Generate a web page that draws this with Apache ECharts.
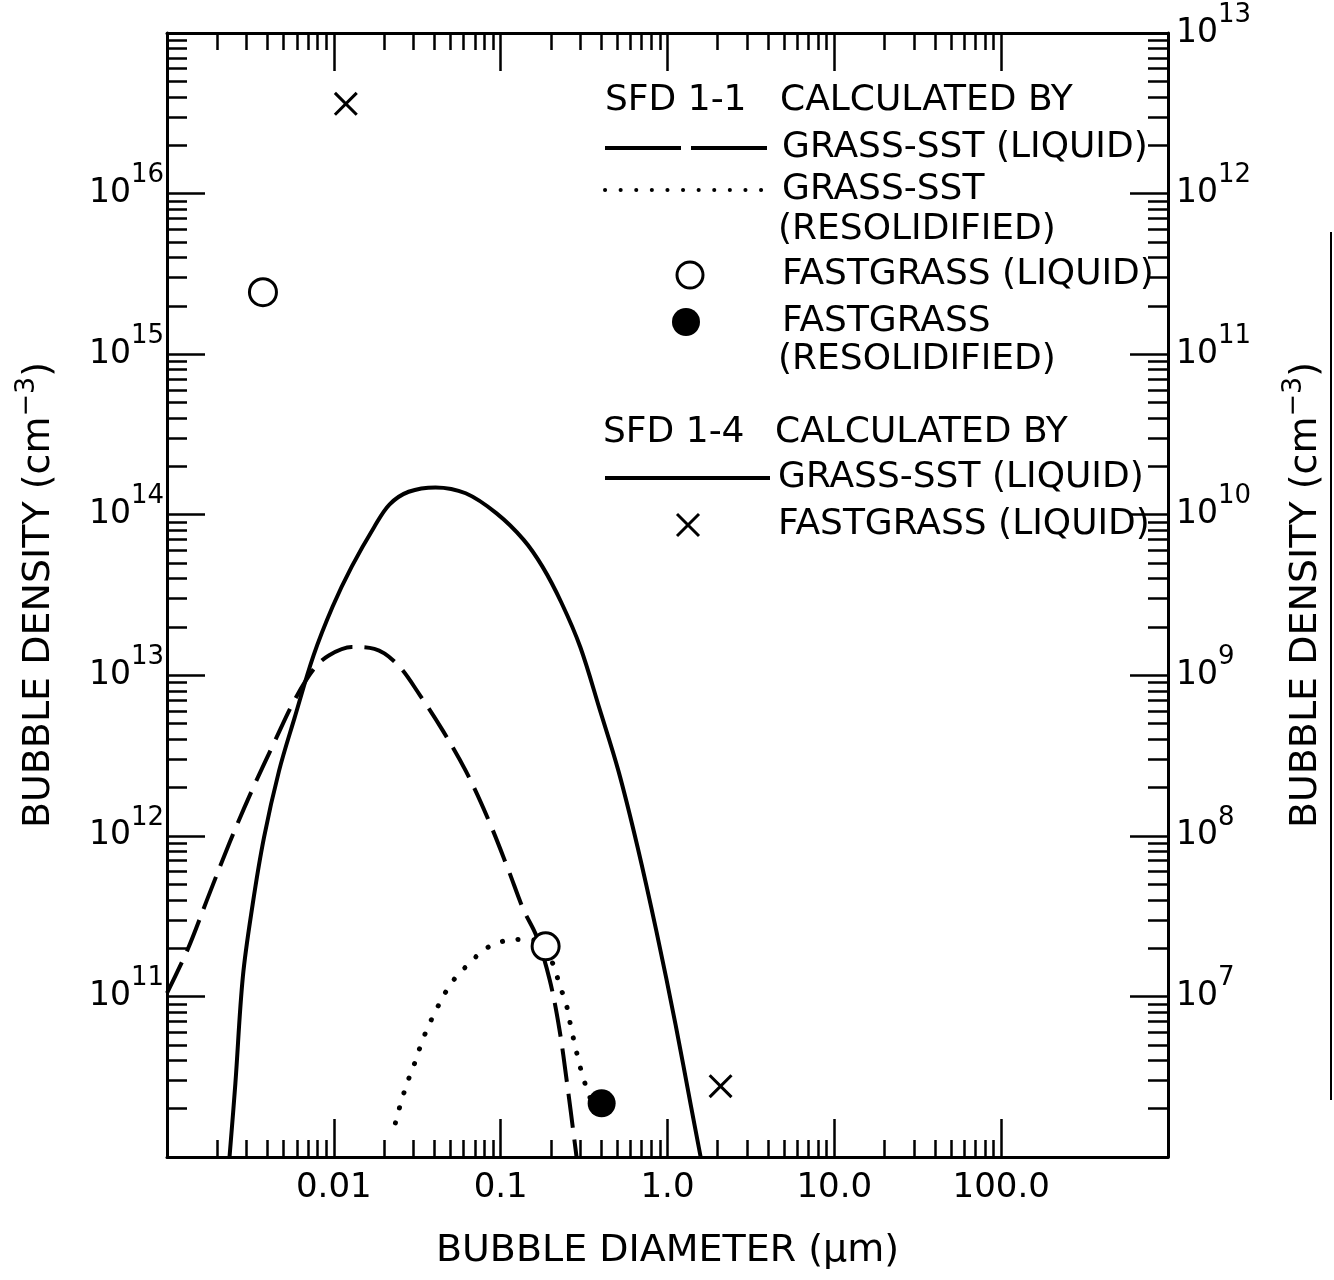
<!doctype html>
<html>
<head>
<meta charset="utf-8">
<title>Bubble density vs bubble diameter</title>
<script src="https://cdn.jsdelivr.net/npm/echarts@6/dist/echarts.min.js"></script>
<style>
  html, body { margin: 0; padding: 0; background: #fff; }
  #chart { width: 1334px; height: 1280px; }
</style>
</head>
<body>
<div id="chart"></div>
<script>
// values: diameter in um, density in cm^-3 (left scale)

// SFD 1-1, GRASS-SST (liquid) - dashed
var sfd11LiqD = [0.001, 0.00133, 0.00173, 0.00237, 0.00326, 0.00446, 0.00581, 0.00756, 0.00933, 0.0128,
  0.0175, 0.0240, 0.0330, 0.0452, 0.0620, 0.0847, 0.111, 0.137, 0.164, 0.197, 0.225, 0.250, 0.285];
var sfd11LiqN = [1.05e11, 1.96e11, 3.95e11, 9.05e11, 1.96e12, 3.95e12, 7.0e12, 1.09e13, 1.33e13, 1.50e13,
  1.46e13, 1.17e13, 7.45e12, 4.49e12, 2.52e12, 1.25e12, 6.18e11, 3.47e11, 2.37e11, 1.26e11, 6.24e10, 2.88e10, 1.0e10];

// SFD 1-1, GRASS-SST (resolidified) - dotted
var sfd11ResD = [0.0234, 0.0254, 0.0281, 0.0305, 0.0339, 0.0376, 0.0418, 0.0477, 0.0558, 0.0654, 0.0765, 0.0895,
  0.108, 0.133, 0.164, 0.208, 0.225, 0.244, 0.264, 0.285, 0.308, 0.334, 0.392];
var sfd11ResN = [1.63e10, 2.23e10, 3.07e10, 3.84e10, 5.29e10, 6.82e10, 8.55e10, 1.10e11, 1.38e11, 1.61e11, 1.90e11, 2.09e11,
  2.23e11, 2.26e11, 2.23e11, 1.56e11, 1.17e11, 9.44e10, 6.42e10, 4.50e10, 3.28e10, 2.53e10, 1.63e10];

// SFD 1-4, GRASS-SST (liquid) - solid
var sfd14LiqD = [0.00237, 0.00257, 0.00285, 0.00326, 0.00381, 0.00469, 0.00581, 0.00756, 0.00984, 0.0128,
  0.0175, 0.0216, 0.0281, 0.0407, 0.0617, 0.0945, 0.137, 0.178, 0.231, 0.300, 0.392, 0.509, 0.661, 0.859, 1.12, 1.38, 1.58];
var sfd14LiqN = [1.0e10, 2.88e10, 1.33e11, 3.73e11, 9.72e11, 2.53e12, 5.41e12, 1.33e13, 2.68e13, 4.75e13,
  8.42e13, 1.16e14, 1.39e14, 1.48e14, 1.36e14, 1.02e14, 7.0e13, 4.75e13, 2.84e13, 1.50e13, 6.15e12, 2.52e12, 8.55e11, 2.53e11, 6.61e10, 2.10e10, 1.0e10];

// FASTGRASS points
var fg11LiqD = [0.00376, 0.186];
var fg11LiqN = [2.43e15, 2.05e11];
var fg11ResD = [0.403];
var fg11ResN = [2.16e10];
var fg14LiqD = [0.0118, 2.08];
var fg14LiqN = [3.62e16, 2.76e10];

// tick labels
var xLabelExp = [-2, -1, 0, 1, 2];
var xLabelText = ['0.01', '0.1', '1.0', '10.0', '100.0'];
var leftLabelExp = [11, 12, 13, 14, 15, 16];
var rightLabelExp = [7, 8, 9, 10, 11, 12, 13];

var FONT = '"DejaVu Sans", sans-serif';

function pairs(xs, ys) {
  return xs.map(function (x, i) { return [x, ys[i]]; });
}

// 2..9 x 10^e for every decade between lo and hi
function minorTicks(lo, hi) {
  var out = [];
  for (var e = lo; e < hi; e++) {
    for (var k = 2; k <= 9; k++) out.push(k * Math.pow(10, e));
  }
  return out;
}

function powLabel(shown) {
  return function (v) {
    var e = Math.round(Math.log10(v));
    return shown.indexOf(e) >= 0 ? '{b|10}{s|' + e + '}' : '';
  };
}

var powRich = {
  b: { fontFamily: FONT, fontSize: 33, lineHeight: 62, color: '#000' },
  s: { fontFamily: FONT, fontSize: 26, lineHeight: 26, verticalAlign: 'top', color: '#000' }
};

var frame = { show: true, lineStyle: { color: '#000', width: 3 } };
var noLine = { show: false };
function ticks(len, custom) {
  var t = { show: true, inside: true, length: len, lineStyle: { color: '#000', width: 2.5 } };
  if (custom) t.customValues = custom;
  return t;
}

var nameStyle = {
  fontFamily: FONT, fontSize: 38, color: '#000', lineHeight: 52,
  rich: { s: { fontFamily: FONT, fontSize: 27, lineHeight: 28, verticalAlign: 'top', color: '#000' } }
};

function xAxisDef(pos, major) {
  return {
    type: 'log', min: 0.001, max: 1000, position: pos,
    axisLine: major ? frame : noLine,
    axisTick: major ? ticks(38) : ticks(17, minorTicks(-3, 2)),
    axisLabel: (major && pos === 'bottom') ? {
      show: true, margin: 14, fontFamily: FONT, fontSize: 34, color: '#000',
      formatter: function (v) {
        var i = xLabelExp.indexOf(Math.round(Math.log10(v)));
        return i < 0 ? '' : xLabelText[i];
      }
    } : { show: false },
    splitLine: { show: false }
  };
}

function yAxisDef(pos, major, lo, hi, shown) {
  return {
    type: 'log', min: Math.pow(10, lo), max: Math.pow(10, hi), position: pos,
    axisLine: major ? frame : noLine,
    axisTick: major ? ticks(38) : ticks(20, minorTicks(lo, hi)),
    axisLabel: major ? { show: true, margin: pos === 'left' ? 3 : 8, formatter: powLabel(shown), rich: powRich } : { show: false },
    splitLine: { show: false }
  };
}

var xAxes = [xAxisDef('bottom', true), xAxisDef('bottom', false), xAxisDef('top', true), xAxisDef('top', false)];
xAxes[0].name = 'BUBBLE DIAMETER (μm)';
xAxes[0].nameLocation = 'middle';
xAxes[0].nameGap = 68;
xAxes[0].nameTextStyle = nameStyle;

var yAxes = [
  yAxisDef('left', true, 10, 17, leftLabelExp),
  yAxisDef('left', false, 10, 17),
  yAxisDef('right', true, 6, 13, rightLabelExp),
  yAxisDef('right', false, 6, 13)
];
yAxes[0].name = 'BUBBLE DENSITY (cm{s|−3})';
yAxes[0].nameLocation = 'middle';
yAxes[0].nameGap = 102;
yAxes[0].nameTextStyle = nameStyle;
yAxes[2].name = 'BUBBLE DENSITY (cm{s|−3})';
yAxes[2].nameLocation = 'middle';
yAxes[2].nameGap = 112;
yAxes[2].nameTextStyle = nameStyle;

// legend drawn as text block inside the plot
var legFont = '36px ' + FONT;
function legText(x, y, t) {
  return { type: 'text', x: x, y: y, z: 10, style: { text: t, font: legFont, fill: '#000', verticalAlign: 'middle' } };
}
function legLine(y, dash, cap) {
  return { type: 'line', z: 10, shape: { x1: 605, y1: y, x2: 770, y2: y },
    style: { stroke: '#000', lineWidth: 4, lineDash: dash, lineCap: cap || 'butt' } };
}

var graphics = [
  legText(605, 101, 'SFD 1-1'),
  legText(780, 101, 'CALCULATED BY'),
  legLine(148, [76, 10]),
  legText(782, 148, 'GRASS-SST (LIQUID)'),
  legLine(190, [0.1, 15.5], 'round'),
  legText(782, 190, 'GRASS-SST'),
  legText(778, 230, '(RESOLIDIFIED)'),
  { type: 'circle', z: 10, shape: { cx: 690, cy: 275, r: 13 }, style: { fill: '#fff', stroke: '#000', lineWidth: 3 } },
  legText(782, 275, 'FASTGRASS (LIQUID)'),
  { type: 'circle', z: 10, shape: { cx: 686, cy: 322, r: 14 }, style: { fill: '#000' } },
  legText(782, 322, 'FASTGRASS'),
  legText(778, 360, '(RESOLIDIFIED)'),
  legText(603, 433, 'SFD 1-4'),
  legText(775, 433, 'CALCULATED BY'),
  legLine(478, null),
  legText(778, 478, 'GRASS-SST (LIQUID)'),
  { type: 'line', z: 10, shape: { x1: 677, y1: 514, x2: 699, y2: 536 }, style: { stroke: '#000', lineWidth: 3 } },
  { type: 'line', z: 10, shape: { x1: 699, y1: 514, x2: 677, y2: 536 }, style: { stroke: '#000', lineWidth: 3 } },
  legText(778, 525, 'FASTGRASS (LIQUID)'),
  // scan edge line at the right margin
  { type: 'line', z: 10, shape: { x1: 1331, y1: 232, x2: 1331, y2: 1100 }, style: { stroke: '#000', lineWidth: 2 } }
];

var crossPath = 'path://M0,0.9L0.9,0L10,9.1L9.1,10ZM9.1,0L10,0.9L0.9,10L0,9.1Z';

var option = {
  animation: false,
  backgroundColor: '#fff',
  grid: { left: 167, right: 166, top: 33, bottom: 123, containLabel: false, outerBoundsMode: 'none' },
  xAxis: xAxes,
  yAxis: yAxes,
  graphic: { elements: graphics },
  series: [
    {
      name: 'SFD 1-1 GRASS-SST (LIQUID)', type: 'line', data: pairs(sfd11LiqD, sfd11LiqN),
      symbol: 'none', smooth: 0.35, z: 3,
      lineStyle: { color: '#000', width: 4, type: [34, 12] }
    },
    {
      name: 'SFD 1-1 GRASS-SST (RESOLIDIFIED)', type: 'line', data: pairs(sfd11ResD, sfd11ResN),
      symbol: 'none', smooth: 0.35, z: 3,
      lineStyle: { color: '#000', width: 5, type: [0.1, 15.5], cap: 'round' }
    },
    {
      name: 'SFD 1-4 GRASS-SST (LIQUID)', type: 'line', data: pairs(sfd14LiqD, sfd14LiqN),
      symbol: 'none', smooth: 0.35, z: 3,
      lineStyle: { color: '#000', width: 4 }
    },
    {
      name: 'SFD 1-1 FASTGRASS (LIQUID)', type: 'scatter', data: pairs(fg11LiqD, fg11LiqN),
      symbol: 'circle', symbolSize: 27, z: 5,
      itemStyle: { color: '#fff', borderColor: '#000', borderWidth: 3, opacity: 1 }
    },
    {
      name: 'SFD 1-1 FASTGRASS (RESOLIDIFIED)', type: 'scatter', data: pairs(fg11ResD, fg11ResN),
      symbol: 'circle', symbolSize: 28, z: 5,
      itemStyle: { color: '#000', opacity: 1 }
    },
    {
      name: 'SFD 1-4 FASTGRASS (LIQUID)', type: 'scatter', data: pairs(fg14LiqD, fg14LiqN),
      symbol: crossPath, symbolSize: 24, z: 5,
      itemStyle: { color: '#000', opacity: 1 }
    }
  ]
};

var myChart = echarts.init(document.getElementById('chart'));
myChart.setOption(option);
</script>
</body>
</html>
